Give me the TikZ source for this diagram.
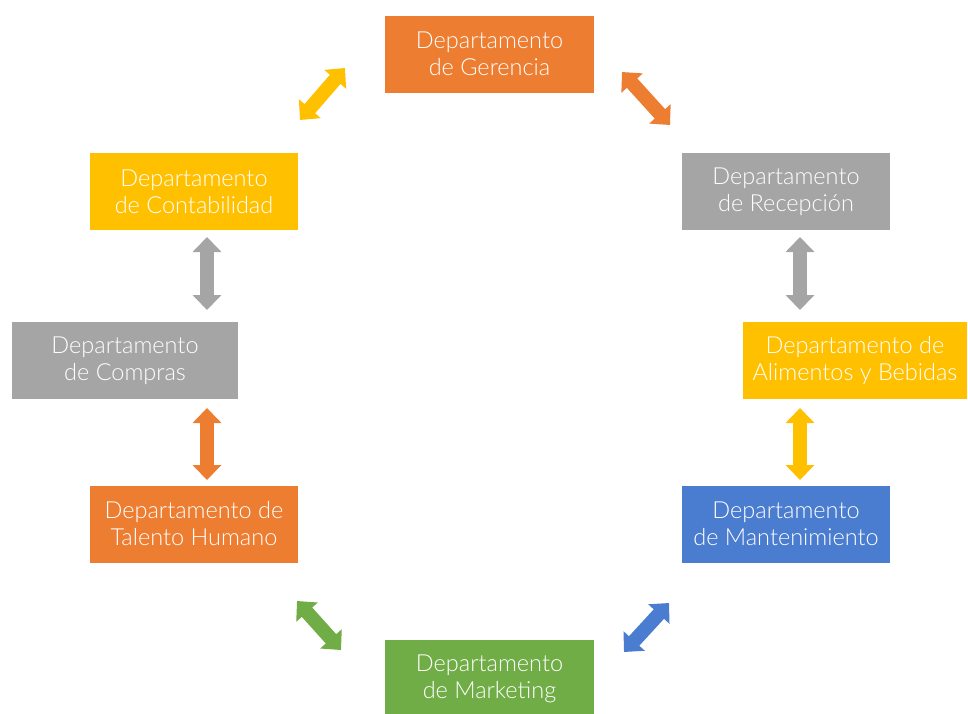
\documentclass[tikz,border=0pt]{standalone}
\usepackage{fontspec}
\setmainfont{Lato}[UprightFont={* Light}]
\usetikzlibrary{arrows.meta}
\definecolor{deptOrange}{HTML}{ED7D31}
\definecolor{deptGray}{HTML}{A5A5A5}
\definecolor{deptYellow}{HTML}{FFC000}
\definecolor{deptBlue}{HTML}{4A7CCF}
\definecolor{deptGreen}{HTML}{70AD47}
\begin{document}
\begin{tikzpicture}[x=1pt,y=-1pt,
  dept/.style={rectangle, inner sep=0pt, align=center, text=white,
    minimum width=208pt, minimum height=77pt,
    font=\fontsize{23.5}{27}\selectfont},
  link/.style={line width=14pt,
    {Triangle[width=28pt,length=15pt]}-{Triangle[width=28pt,length=15pt]}}]
\useasboundingbox (0,0) rectangle (968,713);
\clip (0,0) rectangle (968,713);

% departments around the ring
\node[dept, fill=deptOrange, minimum width=209pt] (ger) at (489.5,54) {Departamento\\de Gerencia};
\node[dept, fill=deptGray] (rec) at (786,191.5) {Departamento\\de Recepción};
\node[dept, fill=deptYellow, minimum width=224pt] (ali) at (855,360.5) {Departamento de\\Alimentos y Bebidas};
\node[dept, fill=deptBlue] (man) at (786,524) {Departamento\\de Mantenimiento};
\node[dept, fill=deptGreen, minimum width=209pt] (mkt) at (489.5,678.5) {Departamento\\de Marketing};
\node[dept, fill=deptOrange] (tal) at (194,524) {Departamento de\\Talento Humano};
\node[dept, fill=deptGray, minimum width=226pt] (com) at (125,360.5) {Departamento\\de Compras};
\node[dept, fill=deptYellow] (con) at (194,191.5) {Departamento\\de Contabilidad};

% arrow end points in the gaps between boxes
\coordinate (conA) at (300,120); \coordinate (gerA) at (345,68);
\coordinate (gerB) at (622,72);  \coordinate (recA) at (670,125);
\coordinate (recB) at (800,237); \coordinate (aliA) at (800,310);
\coordinate (aliB) at (800,408); \coordinate (manA) at (800,480);
\coordinate (manB) at (669,603); \coordinate (mktA) at (624,652);
\coordinate (mktB) at (341,650); \coordinate (talA) at (297,601);
\coordinate (talB) at (207,480); \coordinate (comA) at (207,408);
\coordinate (comB) at (207,310); \coordinate (conB) at (207,237);

% two-way links
\draw[link, deptYellow] (conA) -- (gerA);
\draw[link, deptOrange] (gerB) -- (recA);
\draw[link, deptGray]   (recB) -- (aliA);
\draw[link, deptYellow] (aliB) -- (manA);
\draw[link, deptBlue]   (manB) -- (mktA);
\draw[link, deptGreen]  (mktB) -- (talA);
\draw[link, deptOrange] (talB) -- (comA);
\draw[link, deptGray]   (comB) -- (conB);
\end{tikzpicture}
\end{document}
